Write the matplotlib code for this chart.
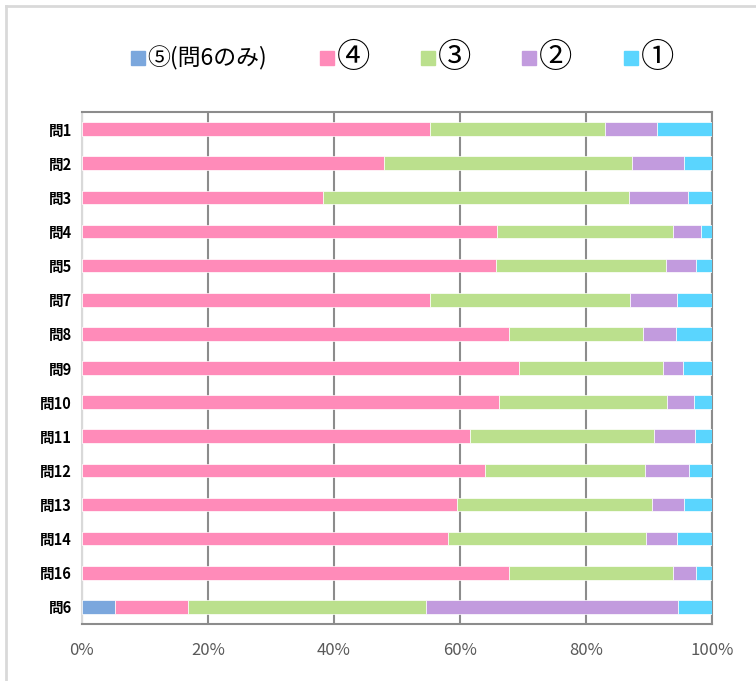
import matplotlib.pyplot as plt
import numpy as np
from matplotlib.patches import Rectangle
from matplotlib.lines import Line2D

plt.rcParams['font.family'] = ['Noto Sans CJK JP', 'DejaVu Sans']

# questions, top to bottom
questions = ['問1', '問2', '問3', '問4', '問5', '問7', '問8', '問9',
             '問10', '問11', '問12', '問13', '問14', '問16', '問6']

# percentages
ans5 = [0, 0, 0, 0, 0, 0, 0, 0, 0, 0, 0, 0, 0, 0, 5.3]
ans4 = [55.2, 47.9, 38.3, 65.9, 65.7, 55.3, 67.8, 69.4, 66.2, 61.6, 64.0, 59.5, 58.1, 67.8, 11.5]
ans3 = [27.8, 39.4, 48.5, 27.9, 27.0, 31.7, 21.3, 22.8, 26.7, 29.2, 25.3, 31.0, 31.5, 26.0, 37.8]
ans2 = [8.3, 8.3, 9.4, 4.5, 4.8, 7.4, 5.2, 3.2, 4.2, 6.5, 7.1, 5.1, 4.8, 3.7, 40.0]
ans1 = [8.7, 4.4, 3.8, 1.7, 2.5, 5.6, 5.7, 4.6, 2.9, 2.7, 3.6, 4.4, 5.6, 2.5, 5.4]

labels = ['⑤(問6のみ)', '④', '③', '②', '①']
colors = ['#7ba7dd', '#ff8bb9', '#bbe08d', '#c29bde', '#5ad5fe']

fig = plt.figure(figsize=(7.56, 6.81), dpi=100)
W, H = 756, 681
ax = fig.add_axes([81.7 / W, (H - 624) / H, (712 - 81.7) / W, (624 - 112) / H])

y = np.arange(len(questions))
left = np.zeros(len(questions))
for vals, c in zip([ans5, ans4, ans3, ans2, ans1], colors):
    v = np.array(vals)
    ax.barh(y, v, left=left, height=0.4, color=c, edgecolor='white',
            linewidth=0.5, zorder=3)
    left += v

ax.set_xlim(0, 100)
ax.set_ylim(len(questions) - 0.5, -0.5)
ax.set_xticks([0, 20, 40, 60, 80, 100])
ax.set_xticklabels(['0%', '20%', '40%', '60%', '80%', '100%'],
                   color='#595959', fontsize=12)
ax.set_yticks(y)
ax.set_yticklabels(questions, fontsize=10.5, fontweight='bold', color='black')
ax.tick_params(axis='both', length=0)
ax.tick_params(axis='x', pad=13)
ax.tick_params(axis='y', pad=7)
ax.grid(axis='x', color='#8c8c8c', linewidth=1.5, zorder=0)
for s in ['top', 'right', 'bottom']:
    ax.spines[s].set_color('#8c8c8c')
    ax.spines[s].set_linewidth(1.5)
ax.spines['left'].set_color('#d9d9d9')
ax.spines['left'].set_linewidth(1.5)

# chart area border (left and top only visible)
fig.add_artist(Line2D([6 / W, 6 / W], [0, 1 - 6 / H], color='#d9d9d9', linewidth=2))
fig.add_artist(Line2D([6 / W, 1], [1 - 6 / H, 1 - 6 / H], color='#d9d9d9', linewidth=2))

# legend along the top
mark_x = [131, 320, 421, 522, 624]
text_x = [147, 337, 438, 539, 641]
sizes = [16.5, 24, 24, 24, 24]
ly = 58
for mx, tx, lab, c, fs in zip(mark_x, text_x, labels, colors, sizes):
    fig.add_artist(Rectangle((mx / W, (H - ly - 7) / H), 14 / W, 14 / H,
                             transform=fig.transFigure, color=c))
    fig.text(tx / W, (H - ly) / H, lab, fontsize=fs, va='center', ha='left',
             color='black')

fig.savefig('out.png', dpi=100)
